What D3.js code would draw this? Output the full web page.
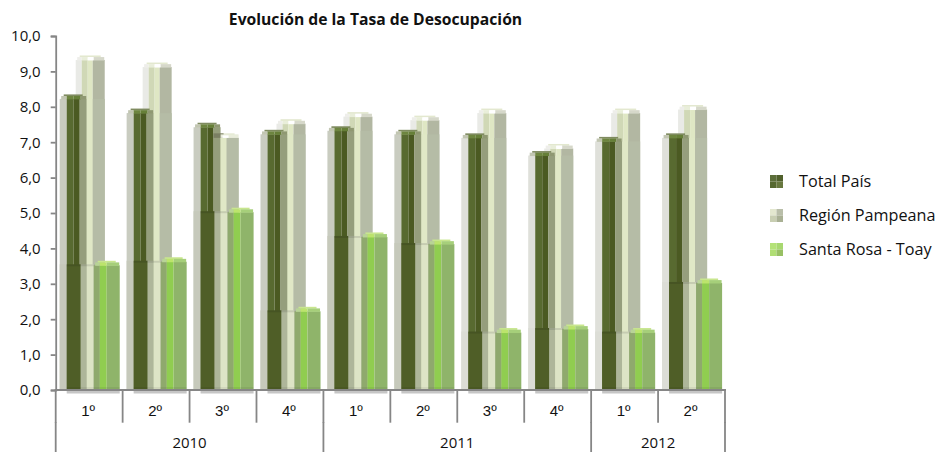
<!DOCTYPE html>
<html><head><meta charset="utf-8">
<script src="https://cdn.jsdelivr.net/npm/d3@7/dist/d3.min.js"></script>
<style>html,body{margin:0;background:#fff}svg{display:block}text{font-family:"Open Sans",Lato,sans-serif;fill:#111}</style>
</head><body><svg id="c" width="941" height="452"></svg>
<script>
const quarters=["1º","2º","3º","4º","1º","2º","3º","4º","1º","2º"];
const years=["2010","2011","2012"];
const yearSpans=[4,4,2];
const totalPais=[8.35,7.95,7.55,7.35,7.45,7.35,7.25,6.75,7.15,7.25];
const regionPampeana=[9.45,9.25,7.25,7.65,7.85,7.75,7.95,6.95,7.95,8.05];
const santaRosa=[3.65,3.75,5.15,2.35,4.45,4.25,1.75,1.85,1.75,3.15];
const yTicks=d3.range(0,11);
const seriesNames=["Total País","Región Pampeana","Santa Rosa - Toay"];

const svg=d3.select("#c");
const x=d3.scaleLinear().domain([0,10]).range([55.7,725]);
const y=d3.scaleLinear().domain([0,10]).range([390,36]);
const G=svg.append("g");

const u=x(1)-x(0);
const f=p=>p/66.9;
const X=(i,p)=>x(i)+f(p)*u;
const totalFacets=i=>[[4,11,i>=6?"#dfe0da":"#c9ccc0"],[11,18,"#586a30"],[18,24,"#4b5a22"],[24,31,"#959e7c"]];
const totalLower=i=>[[4,11,i>=6?"#dcddd6":"#c6c9bb"],[11,25,"#4f5e27"],[25,31,"#aeb69a"]];
const regionFacets=[[20,26,"#e9eae6"],[26,32,"#d0d8b6"],[32,37,"#dfe7c4"],[37,49,"#b2b7a2"]];
const regionLower=[[31,37,"#e0e8c6"],[37,49,"#b5bca6"]];
const santaFacets=[[38,44,"#8fa96d"],[44,51,"#90cd50"],[51,64,"#8fb46a"]];

function facets(g,i,list,top){
  list.forEach(d=>g.append("rect")
    .attr("x",X(i,d[0])).attr("width",f(d[1]-d[0])*u)
    .attr("y",top).attr("height",Math.max(0,y(0)-top)).attr("fill",d[2]));
}
function cap(g,i,v,band,list){
  const t=y(v),a=list[0][0],b=list[list.length-1][1];
  g.append("rect").attr("x",X(i,a+4)).attr("width",f(b-a-8)*u).attr("y",t).attr("height",1.8).attr("fill",band);
  list.forEach((d,k)=>{
    const l=k===0?d[0]+1.5:d[0], r=k===list.length-1?d[1]-0.5:d[1];
    g.append("rect").attr("x",X(i,l)).attr("width",f(r-l)*u).attr("y",t+1.6).attr("height",3.4).attr("fill",d[2]);
  });
}
const totalCap=[[4,11,"#c2c6b2"],[11,18,"#6d853f"],[18,25,"#667f38"],[25,31,"#8f9872"]];
const regionCap=[[20,26,"#eeeeea"],[26,32,"#e9eeda"],[32,38,"#ffffff"],[38,49,"#d6d8ca"]];
const santaCap=[[38,44,"#b8d496"],[44,51,"#bce46c"],[51,64,"#a6cf7a"]];

quarters.forEach((q,i)=>{
  const g=G.append("g");
  g.append("rect").attr("x",X(i,11)).attr("width",f(53)*u).attr("y",y(0)).attr("height",3.5).attr("fill","#c6c6c6");
  facets(g,i,regionFacets,y(regionPampeana[i])+4.5);
  cap(g,i,regionPampeana[i],"#e3e8cf",regionCap);
  facets(g,i,totalFacets(i),y(totalPais[i])+4.5);
  cap(g,i,totalPais[i],"#7f8b60",totalCap);
  const regTop=Math.max(y(regionPampeana[i]),y(totalPais[i]))+4.5;
  facets(g,i,regionLower,regTop);
  if(regionPampeana[i]<totalPais[i]){
    g.append("rect").attr("x",X(i,24)).attr("width",f(10)*u).attr("y",y(regionPampeana[i])).attr("height",4.5).attr("fill","#7a7f63");
    g.append("rect").attr("x",X(i,31)).attr("width",f(18)*u).attr("y",y(regionPampeana[i])+1).attr("height",3.5).attr("fill","#e9eddb");
    g.append("rect").attr("x",X(i,33)).attr("width",f(6)*u).attr("y",y(regionPampeana[i])+2).attr("height",2.5).attr("fill","#ffffff");
  }
  const st=y(santaRosa[i])+3.5;
  facets(g,i,totalLower(i),st);
  facets(g,i,[[31,38,"#dde4c6"]],st);
  g.append("rect").attr("x",X(i,11)).attr("width",f(28)*u).attr("y",st).attr("height",2).attr("fill","#000").attr("opacity",.1);
  facets(g,i,santaFacets,y(santaRosa[i])+4.5);
  cap(g,i,santaRosa[i],"#c8e68e",santaCap);
  g.append("rect").attr("x",X(i,11)).attr("width",f(53)*u).attr("y",y(0)-3).attr("height",3).attr("fill","#000").attr("opacity",.06);
});

// axes
const axisCol="#868686", sw=1.8;
const yAxis=d3.axisLeft(y).tickValues(yTicks).tickSize(5).tickPadding(10).tickFormat(d=>d3.format(".1f")(d).replace(".",","));
const ya=svg.append("g").attr("transform",`translate(${x(0)},0)`).call(yAxis);
ya.selectAll("path,line").attr("stroke",axisCol).attr("stroke-width",sw);
ya.selectAll("text").attr("font-size",15).style("font-family",'"Open Sans"').attr("fill","#111");
svg.append("line").attr("x1",x(0)-1).attr("x2",x(10)+1).attr("y1",y(0)).attr("y2",y(0)).attr("stroke",axisCol).attr("stroke-width",sw);

d3.range(0,11).forEach(i=>{
  svg.append("line").attr("x1",x(i)).attr("x2",x(i)).attr("y1",y(0)).attr("y2",422.7).attr("stroke",axisCol).attr("stroke-width",sw);
});
quarters.forEach((q,i)=>svg.append("text").attr("x",x(i+.5)-1).attr("y",416).attr("text-anchor","middle").attr("font-size",15).style("font-family",'"Liberation Sans"').text(q));
let c=0;
years.forEach((yr,k)=>{
  svg.append("text").attr("x",x(c+yearSpans[k]/2)).attr("y",447.5).attr("text-anchor","middle").attr("font-size",15).text(yr);
  svg.append("line").attr("x1",x(c)).attr("x2",x(c)).attr("y1",422).attr("y2",452).attr("stroke",axisCol).attr("stroke-width",sw);
  c+=yearSpans[k];
});
svg.append("line").attr("x1",x(c)).attr("x2",x(c)).attr("y1",422).attr("y2",452).attr("stroke",axisCol).attr("stroke-width",sw);

svg.append("text").attr("x",375.5).attr("y",25).attr("text-anchor","middle").attr("font-size",15.7).attr("font-weight",700).text("Evolución de la Tasa de Desocupación");

// legend
const swatches=[["#5c6e3a","#50602c","#566830","#68783f"],["#e3e7cf","#b9bea9","#c8ceb2","#a9b094"],["#b4e278","#a8d870","#b0de74","#98c064"]];
seriesNames.forEach((n,i)=>{
  const ly=175+i*34;
  const l=svg.append("g");
  swatches[i].forEach((col,k)=>l.append("rect").attr("x",770+(k%2)*6.5).attr("y",ly+(k>>1)*6.5).attr("width",6.5).attr("height",6.5).attr("fill",col));
  l.append("text").attr("x",799).attr("y",ly+12).attr("font-size",16.2).text(n);
});
</script></body></html>
